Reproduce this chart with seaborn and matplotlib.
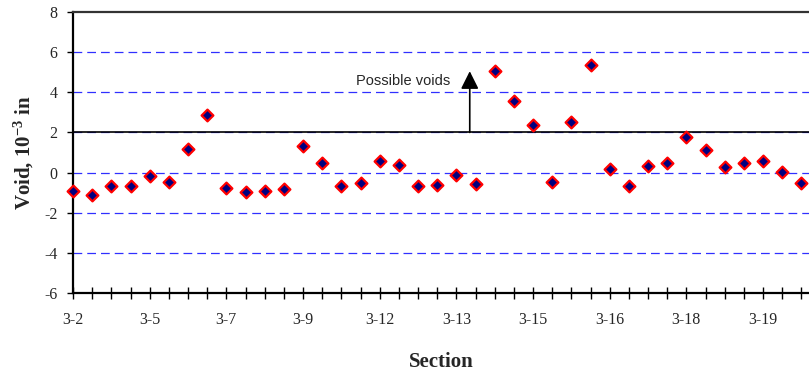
import matplotlib
matplotlib.use("Agg")
import matplotlib.pyplot as plt
import seaborn as sns
import pandas as pd

# section labels shown on the axis (every 4th point)
section_labels = ["3-2", "3-5", "3-7", "3-9", "3-12", "3-13", "3-15", "3-16", "3-18", "3-19"]

# void readings, 10^-3 in, one per measured point
void = [-0.90, -1.13, -0.67, -0.67, -0.15, -0.48, 1.18, 2.88, -0.78, -0.97,
        -0.93, -0.82, 1.33, 0.48, -0.65, -0.53, 0.58, 0.37, -0.68, -0.62,
        -0.10, -0.57, 5.07, 3.55, 2.35, -0.48, 2.52, 5.35, 0.20, -0.65,
        0.35, 0.47, 1.75, 1.12, 0.28, 0.50, 0.58, 0.02, -0.50]

threshold = 2
y_ticks = [-6, -4, -2, 0, 2, 4, 6, 8]

df = pd.DataFrame({"point": range(len(void)), "void": void})

sns.set_theme(style="white")
plt.rcParams["font.family"] = ["Liberation Serif", "DejaVu Serif"]
plt.rcParams["mathtext.default"] = "regular"

fig = plt.figure(figsize=(8.09, 3.71), dpi=100)
ax = fig.add_axes([73 / 809, 1 - 293 / 371, 1 - 73 / 809, (293 - 12) / 371])

# dashed blue gridlines
for yv in y_ticks[1:-1]:
    ax.axhline(yv, color="#3030ff", lw=0.9, dashes=(7, 4), zorder=1)

# threshold line for possible voids
ax.axhline(threshold, color="black", lw=1.2, zorder=2)

sns.scatterplot(data=df, x="point", y="void", marker="D", s=36,
                color="#000080", edgecolor="red", linewidth=1.6,
                ax=ax, zorder=5, clip_on=False, legend=False)

ax.annotate("", xy=(20.7, 5.05), xytext=(20.7, threshold),
            arrowprops=dict(arrowstyle="-|>,head_length=0.9,head_width=0.45",
                            color="black", lw=1.2, shrinkA=0, shrinkB=0))
ax.text(17.2, 4.56, "Possible voids", ha="center", va="center",
        fontsize=10.5, family=["Liberation Sans", "DejaVu Sans"])

ax.set_xlim(0, 38.4)
ax.set_ylim(-6, 8)
ax.set_yticks(y_ticks)
ax.set_yticklabels([str(t) for t in y_ticks])
ax.set_xticks(range(len(void)))
labels = [""] * len(void)
for i, lab in enumerate(section_labels):
    labels[i * 4] = lab
ax.set_xticklabels(labels)

ax.tick_params(axis="y", direction="out", length=4, width=1, color="black",
               labelsize=11.5, pad=7, left=True)
ax.tick_params(axis="x", direction="inout", length=8, width=1, color="black",
               labelsize=11.5, pad=10, bottom=True)

for side in ["left", "bottom", "top"]:
    ax.spines[side].set_color("black")
    ax.spines[side].set_linewidth(1.6)
ax.spines["top"].set_color("#333333")
ax.spines["right"].set_visible(False)

ax.set_xlabel("Section", fontsize=15, fontweight="bold", labelpad=17)
ax.set_ylabel("Void, 10$^{-3}$ in", fontsize=15, fontweight="bold", labelpad=6)

fig.savefig("out.png", dpi=100)
